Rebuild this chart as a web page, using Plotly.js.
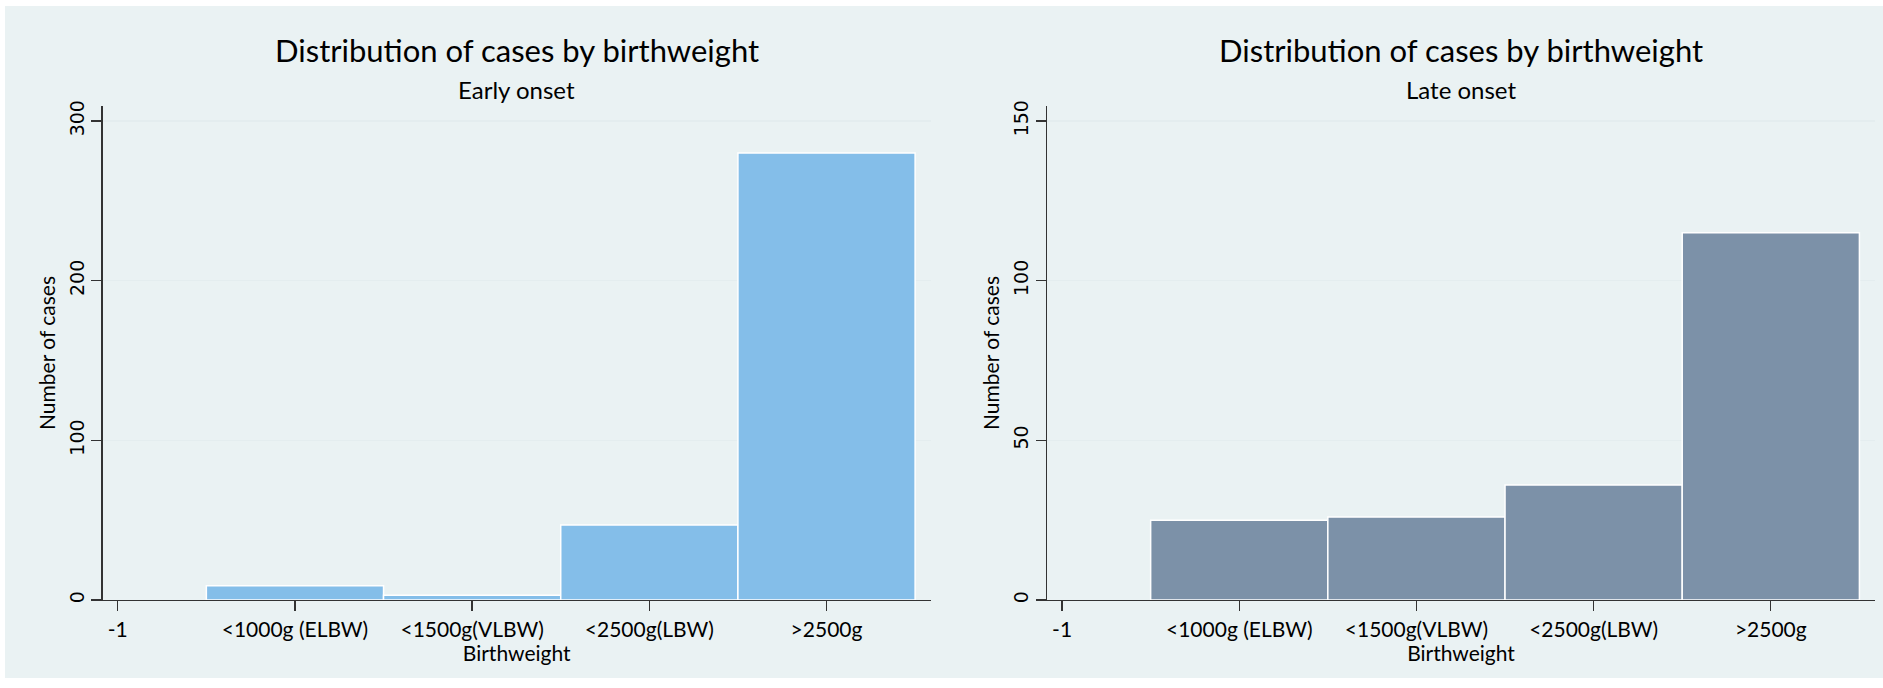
<!DOCTYPE html>
<html><head><meta charset="utf-8">
<script src="https://cdn.plot.ly/plotly-3.0.1.min.js"></script>
<style>html,body{margin:0;padding:0;background:#fff;}#chart{width:1883px;height:688px;}</style>
</head><body><div id="chart"></div>
<script>
// ---- data ----
const tickValues = [-1, 0, 1, 2, 3];
const tickLabels = ['-1', '<1000g (ELBW)', '<1500g(VLBW)', '<2500g(LBW)', '>2500g'];
const categoryCodes = [0, 1, 2, 3];
const categories = ['<1000g (ELBW)', '<1500g(VLBW)', '<2500g(LBW)', '>2500g'];
const earlyOnsetCases = [9, 3, 47, 280];
const lateOnsetCases = [25, 26, 36, 115];
const earlyYTicks = [0, 100, 200, 300];
const lateYTicks = [0, 50, 100, 150];
const chartTitle = 'Distribution of cases by birthweight';
const subtitles = ['Early onset', 'Late onset'];
const xTitle = 'Birthweight';
const yTitle = 'Number of cases';

// ---- layout helpers ----
const W = 1883, H = 688;
const fx = p => p / W;
const fy = p => 1 - p / H;
const plotTop = 106, plotBottom = 600;
const leftDom = [fx(102.7), fx(930.7)];
const rightDom = [fx(1047), fx(1875)];
const yDom = [fy(plotBottom), fy(plotTop)];
const axisColor = '#333333';
const textFont = 'Lato, "Open Sans", sans-serif';

function makeX(domain, anchor) {
  return {
    domain: domain, anchor: anchor, range: [-1.085, 3.588],
    tickmode: 'array', tickvals: tickValues, ticktext: tickLabels,
    ticks: 'outside', ticklen: 10, tickwidth: 1.3, tickcolor: axisColor,
    showline: true, linecolor: axisColor, linewidth: 1.3,
    showgrid: false, zeroline: false, fixedrange: true,
    tickfont: {family: textFont, size: 21, color: '#000'},
    title: {text: xTitle, font: {family: textFont, size: 21, color: '#000'}, standoff: 0}
  };
}
function makeY(domain, anchor, range, ticks) {
  return {
    domain: domain, anchor: anchor, range: range,
    tickmode: 'array', tickvals: ticks, ticktext: ticks.map(String),
    ticks: 'outside', ticklen: 10, tickwidth: 1.3, tickcolor: axisColor,
    tickangle: -90,
    showline: true, linecolor: axisColor, linewidth: 1.3,
    showgrid: true, gridcolor: '#E4EDEF', gridwidth: 1.5,
    zeroline: false, fixedrange: true,
    tickfont: {family: '"DejaVu Sans", sans-serif', size: 19, color: '#000'},
    title: {text: yTitle, font: {family: textFont, size: 21, color: '#000'}, standoff: 4}
  };
}

const traces = [
  {type: 'bar', x: categoryCodes, y: earlyOnsetCases, text: categories, width: 1,
   xaxis: 'x', yaxis: 'y', hoverinfo: 'text+y', textposition: 'none',
   marker: {color: '#84BEE9', line: {color: '#FFFFFF', width: 1.5}}, showlegend: false},
  {type: 'bar', x: categoryCodes, y: lateOnsetCases, text: categories, width: 1,
   xaxis: 'x2', yaxis: 'y2', hoverinfo: 'text+y', textposition: 'none',
   marker: {color: '#7C91A8', line: {color: '#FFFFFF', width: 1.5}}, showlegend: false}
];

const centers = [(leftDom[0] + leftDom[1]) / 2, (rightDom[0] + rightDom[1]) / 2];
const annotations = [];
centers.forEach((cx, i) => {
  annotations.push({xref: 'paper', yref: 'paper', x: cx, y: fy(50), xanchor: 'center', yanchor: 'middle',
    text: chartTitle, showarrow: false, font: {family: textFont, size: 31, color: '#000'}});
  annotations.push({xref: 'paper', yref: 'paper', x: cx, y: fy(89), xanchor: 'center', yanchor: 'middle',
    text: subtitles[i], showarrow: false, font: {family: textFont, size: 24, color: '#000'}});
});

const layout = {
  width: W, height: H,
  margin: {l: 0, r: 0, t: 0, b: 0, pad: 0},
  paper_bgcolor: '#FFFFFF', plot_bgcolor: '#FFFFFF',
  bargap: 0,
  xaxis: makeX(leftDom, 'y'),
  yaxis: makeY(yDom, 'x', [0, 309.4], earlyYTicks),
  xaxis2: makeX(rightDom, 'y2'),
  yaxis2: makeY(yDom, 'x2', [0, 154.7], lateYTicks),
  annotations: annotations,
  shapes: [{type: 'rect', xref: 'paper', yref: 'paper', layer: 'below',
    x0: fx(5), x1: 1, y0: fy(678), y1: fy(6), fillcolor: '#EAF2F3', line: {width: 0}}]
};

Plotly.newPlot('chart', traces, layout, {displayModeBar: false, staticPlot: true});
</script>
</body></html>
